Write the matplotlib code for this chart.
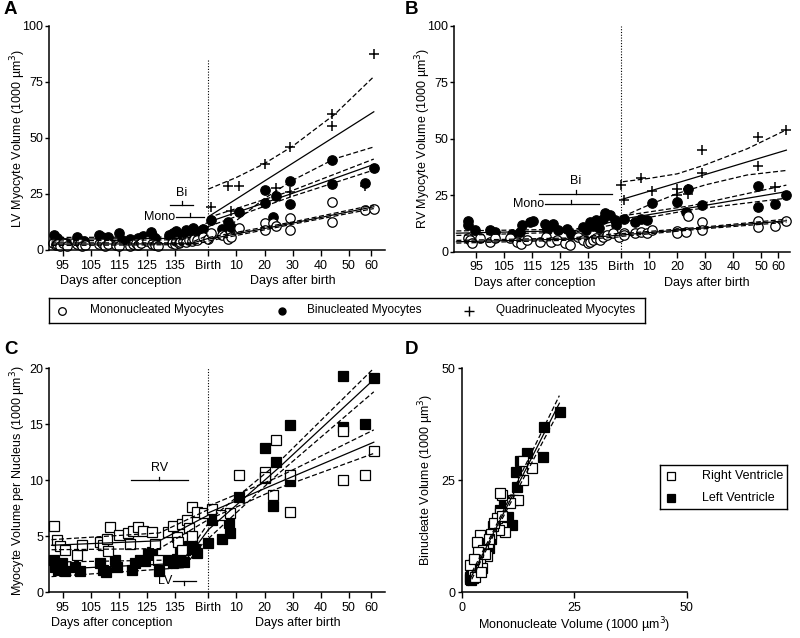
import matplotlib
matplotlib.use('Agg')
import matplotlib.pyplot as plt
from matplotlib.transforms import blended_transform_factory

plt.rcParams['font.family'] = ['Liberation Sans', 'DejaVu Sans']
plt.rcParams['font.size'] = 9

BIRTH = 147  # gestational day of birth

# ---------------- Panel A (LV myocyte volume) ----------------
A_mono_pre_x = [91.5, 92.5, 93, 94, 95, 96.5, 100, 101, 102, 103, 108, 109, 110, 111, 114, 115, 119, 120, 121,
                122, 123, 125, 127, 128, 129, 134, 135, 135.5, 136.5, 137, 138, 139, 140, 141, 142, 143, 145]
A_mono_pre_y = [3.0, 2.2, 2.6, 1.8, 3.3, 2.0, 2.5, 3.0, 1.9, 2.4, 2.6, 3.2, 2.0, 2.8, 2.4, 1.9, 2.0, 2.7, 3.3,
                2.2, 3.0, 3.8, 2.6, 2.2, 2.0, 3.2, 2.8, 4.0, 3.0, 3.6, 4.2, 3.4, 4.6, 3.8, 5.0, 4.4, 5.6]
A_mono_post_d = [0, 1, 5, 7, 8, 11, 20, 20, 23, 24, 29, 29, 44, 44, 56, 59]
A_mono_post_y = [5.0, 7.4, 6.7, 4.9, 6.0, 9.6, 12.1, 8.9, 12.1, 10.7, 14.1, 9.0, 21.6, 12.7, 17.8, 18.3]
A_bi_pre_x = [92, 93, 94, 96, 100, 101, 102.5, 108, 109, 110, 111, 115, 116, 119, 121, 122, 123.5, 124.5, 126.5,
              127, 128, 133, 134.5, 135.5, 137, 138, 139, 140, 141.5, 142.5, 143.5, 145]
A_bi_pre_y = [6.8, 5.2, 4.0, 3.2, 5.8, 4.2, 3.8, 6.8, 5.6, 4.2, 5.8, 7.6, 4.6, 5.0, 4.2, 5.4, 6.2, 5.0, 8.2,
              6.5, 5.4, 6.8, 7.6, 8.4, 6.0, 7.0, 8.8, 7.8, 9.8, 8.6, 7.2, 9.2]
A_bi_post_d = [1, 5, 7, 8, 11, 20, 20, 23, 24, 29, 29, 44, 44, 56, 59]
A_bi_post_y = [13.4, 9.2, 12.6, 10.4, 16.8, 26.8, 21.1, 14.9, 24.0, 31.0, 20.5, 40.2, 29.3, 30.0, 36.8]
A_quad_post_d = [1, 7, 8, 11, 20, 24, 29, 29, 44, 44, 56, 59]
A_quad_post_y = [19.3, 28.7, 17.6, 28.7, 38.5, 27.9, 46.1, 25.7, 60.7, 55.3, 28.7, 87.5]

# fitted lines: knots x, (lower, fit, upper)
A_mono_pre_fit_x = [91, 140.5, 147]
A_mono_pre_fit = ([2.0, 2.4, 3.8], [2.6, 2.8, 5.2], [3.2, 3.2, 6.6])
A_bi_pre_fit_x = [91, 137.5, 147]
A_bi_pre_fit = ([4.0, 4.6, 8.5], [4.8, 5.2, 10.5], [5.6, 5.8, 12.5])
A_mono_post_fit_d = [0, 30, 59]
A_mono_post_fit = ([4.0, 11.5, 18.5], [4.8, 12.0, 19.3], [5.6, 12.5, 20.1])
A_bi_post_fit_d = [0, 30, 59]
A_bi_post_fit = ([10.5, 24.0, 35.7], [12.5, 25.3, 38.2], [14.5, 26.6, 40.6])
A_quad_post_fit_d = [0, 10, 20, 30, 45, 59]
A_quad_post_fit = ([2.6, 13.2, 23.0, 31.1, 40.7, 46.0],
                   [14.9, 22.8, 30.8, 38.7, 50.6, 61.7],
                   [27.2, 32.4, 38.6, 46.3, 60.5, 77.4])
A_brackets = [("Bi", 137.5, 133.3, 141.6, 20.1), ("Mono", 140.5, 135.5, 145.5, 14.9)]

# ---------------- Panel B (RV myocyte volume) ----------------
B_mono_pre_x = [92.3, 92.9, 93.5, 96.4, 100, 101.8, 107.1, 109.5, 111, 113.1, 117.9, 120.2, 122, 123.8, 126.8,
                128.6, 131.5, 133.3, 135, 135.7, 137, 138.1, 139.5, 140.4, 142, 144, 146]
B_mono_pre_y = [6.2, 5.0, 3.8, 5.9, 4.4, 5.9, 5.9, 4.4, 3.6, 5.2, 4.4, 6.6, 4.2, 5.2, 3.7,
                3.0, 6.6, 5.2, 3.8, 4.4, 5.0, 5.9, 5.4, 6.6, 7.6, 8.1, 6.4]
B_mono_post_d = [1, 1, 5, 7, 9, 11, 20, 20, 23, 24, 29, 29, 49, 49, 55, 59]
B_mono_post_y = [8.5, 7.2, 8.1, 8.7, 8.2, 9.8, 9.0, 8.3, 8.7, 15.6, 13.1, 9.8, 13.5, 11.0, 11.5, 13.6]
B_bi_pre_x = [92.3, 92.3, 94.6, 100, 101.8, 108, 110.7, 111.3, 114.3, 115.5, 119.6, 120.5, 121.4, 122.6, 124.4,
              127.4, 129, 133.3, 134.5, 135.7, 137, 138.1, 139, 140.4, 141, 142.9, 144.6, 145.2]
B_bi_pre_y = [13.6, 11.8, 9.5, 9.5, 8.8, 8.0, 8.8, 12.0, 13.0, 13.4, 12.4, 9.8, 11.6, 12.4, 9.5,
              10.2, 8.0, 11.0, 9.6, 13.0, 11.2, 14.0, 10.4, 14.6, 17.0, 16.1, 14.0, 11.8]
B_bi_post_d = [1, 5, 7, 9, 11, 20, 23, 24, 29, 49, 49, 55, 59]
B_bi_post_y = [14.5, 13.0, 14.5, 14.0, 21.6, 21.9, 17.5, 27.6, 20.6, 29.3, 20.0, 21.0, 25.0]
B_quad_post_d = [0, 1, 7, 11, 20, 20, 24, 24, 29, 29, 49, 49, 55, 59]
B_quad_post_y = [29.5, 23.0, 32.8, 27.0, 28.0, 25.0, 25.5, 28.0, 45.0, 35.0, 51.0, 38.0, 28.5, 54.0]

B_mono_pre_fit_x = [88, 128.9, 147]
B_mono_pre_fit = ([3.8, 5.1, 6.6], [4.4, 5.6, 7.4], [5.0, 6.1, 8.2])
B_bi_pre_fit_x = [88, 130.6, 147]
B_bi_pre_fit = ([7.2, 8.8, 12.6], [8.2, 9.4, 14.2], [9.2, 10.0, 15.8])
B_mono_post_fit_d = [0, 30, 59]
B_mono_post_fit = ([6.8, 10.2, 13.0], [7.4, 10.6, 13.7], [8.0, 11.0, 14.4])
B_bi_post_fit_d = [0, 25, 59]
B_bi_post_fit = ([13.0, 18.6, 23.7], [14.4, 19.5, 26.6], [15.8, 20.4, 29.5])
B_quad_post_fit_d = [0.5, 10, 20, 30, 45, 59]
B_quad_post_fit = ([15.6, 20.8, 25.8, 29.6, 34.0, 36.0],
                   [23.3, 26.8, 30.5, 34.2, 39.8, 45.0],
                   [31.0, 32.5, 34.5, 38.5, 45.6, 54.0])
B_brackets = [("Bi", 130.6, 117.6, 143.5, 25.6), ("Mono", 128.9, 119.6, 138.9, 21.1)]

# ---------------- Panel C (volume per nucleus) ----------------
C_rv_pre_x = [92, 92.9, 94, 95.8, 100, 101.8, 108.3, 109.2, 110.7, 111, 111.9, 114.9, 118.4, 119, 120.2, 122,
              123.8, 126.8, 127.9, 129.1, 132.7, 134.5, 135.7, 136.3, 137.5, 137.5, 139.3, 140.2, 141.1, 141.1,
              142.9, 145.5]
C_rv_pre_y = [5.9, 4.7, 4.1, 3.8, 3.3, 4.2, 4.5, 4.2, 4.8, 3.7, 5.8, 5.1, 5.3, 4.3, 5.5, 5.8,
              5.5, 5.4, 4.3, 2.9, 5.4, 5.9, 4.9, 4.5, 6.1, 3.8, 6.5, 5.7, 7.6, 5.0,
              7.2, 7.1]
C_rv_post_d = [1.4, 4.4, 7.8, 11, 20, 20, 23, 24, 29, 29, 48, 48, 56, 59]
C_rv_post_y = [7.4, 6.9, 7.1, 10.5, 10.7, 10.3, 8.7, 13.6, 10.5, 7.2, 14.4, 10.0, 10.5, 12.6]
C_lv_pre_x = [92, 92.4, 93.4, 94.6, 95.8, 99.3, 101.1, 108.3, 109.4, 110.6, 113.6, 114.2, 119.6, 120.8, 122.6,
              124.4, 125.6, 126.8, 129.2, 132.7, 134.5, 135.7, 136.9, 138.1, 138.7, 139.9, 141.1, 142.3, 142.9]
C_lv_pre_y = [2.9, 2.3, 2.0, 2.6, 1.9, 2.3, 1.9, 2.6, 2.0, 1.8, 2.9, 2.3, 2.0, 2.6, 2.9,
              2.8, 3.4, 3.6, 1.9, 2.9, 2.6, 3.0, 3.5, 2.7, 3.8, 4.1, 4.5, 3.9, 3.5]
C_lv_post_d = [0, 1.4, 4.8, 7.2, 7.8, 11, 20, 20, 23, 24, 29, 29, 48, 48, 56, 59]
C_lv_post_y = [4.4, 6.5, 4.8, 6.2, 5.3, 8.5, 12.9, 10.2, 7.7, 11.6, 14.9, 9.9, 19.3, 14.8, 15.0, 19.1]

C_rv_pre_fit_x = [91, 129.5, 147]
C_rv_pre_fit = ([3.8, 3.9, 6.5], [4.2, 4.6, 6.9], [4.7, 5.3, 7.4])
C_lv_pre_fit_x = [91, 138.1, 147]
C_lv_pre_fit = ([1.4, 2.2, 5.0], [2.05, 2.6, 5.6], [2.7, 2.9, 6.2])
C_lv_post_fit_d = [0, 25, 59]
C_lv_post_fit = ([4.8, 10.6, 17.9], [5.6, 11.1, 19.0], [6.4, 11.6, 20.0])
C_rv_post_fit_d = [0, 25, 59]
C_rv_post_fit = ([6.5, 9.3, 12.4], [7.1, 9.8, 13.4], [7.7, 10.3, 14.5])
C_brackets = [("RV", 129.5, 119.4, 139.6, 10.0), ("LV", 138.1, 134.5, 142.5, 1.0)]

# ---------------- Panel D (bi vs mono volume) ----------------
D_lv_x = [21.9, 18.3, 18.0, 14.5, 13.0, 12.1, 12.2, 11.1, 10.2, 9.3, 8.5, 7.5, 6.5, 5.5, 5.0, 4.5, 4.0, 3.5,
          3.0, 2.8, 2.5, 2.3, 2.2, 2.0, 2.0, 1.8, 1.9, 2.1, 2.4, 2.6, 3.2, 3.8, 6.0]
D_lv_y = [40.2, 36.8, 30.1, 31.0, 29.3, 26.9, 23.6, 15.0, 16.9, 20.2, 18.4, 14.5, 12.0, 10.5, 9.0, 9.5, 8.0, 7.5,
          7.0, 6.5, 6.0, 5.5, 5.0, 4.5, 4.0, 3.5, 3.0, 2.8, 3.2, 3.8, 5.5, 6.5, 10.0]
D_rv_x = [13.7, 15.6, 13.6, 11.5, 12.6, 10.8, 8.9, 8.5, 8.5, 7.8, 9.6, 8.2, 7.0, 5.9, 4.8, 4.1, 3.3, 5.9, 4.8,
          5.6, 4.1, 4.5, 3.3, 2.6, 3.0, 1.9, 6.5, 7.2, 5.2, 3.6, 4.2, 2.8, 9.0, 6.0]
D_rv_y = [29.2, 27.7, 25.1, 20.6, 20.6, 19.9, 21.7, 22.1, 17.6, 16.5, 13.5, 13.9, 14.7, 12.4, 11.3, 12.8, 11.3,
          10.9, 9.4, 8.0, 7.2, 5.4, 6.5, 5.0, 3.5, 6.1, 13.0, 15.5, 8.5, 9.0, 4.5, 7.5, 17.0, 11.8]
D_fit_x = [1.5, 7.0, 21.7]
D_fit = ([1.4, 12.6, 40.6], [2.2, 13.1, 42.2], [3.0, 13.6, 43.9])

legend_top_labels = ["Mononucleated Myocytes", "Binucleated Myocytes", "Quadrinucleated Myocytes"]
legend_D_labels = ["Right Ventricle", "Left Ventricle"]

pre_ticks = [95, 105, 115, 125, 135]
post_ticks = [10, 20, 30, 40, 50]
post_tick_labels = ["10", "20", "30", "40", "50", "60"]

# ---------------- drawing helpers ----------------
W, H = 800, 638
fig = plt.figure(figsize=(8, 6.38), dpi=100)
FS = 9


def rect(l, r, t, b):
    return [l / W, 1 - b / H, (r - l) / W, (b - t) / H]


OPEN_C = dict(marker='o', ms=6.8, mfc='white', mec='black', mew=0.9, ls='none', clip_on=False)
FILL_C = dict(marker='o', ms=6.8, mfc='black', mec='black', mew=0.9, ls='none', clip_on=False)
PLUS = dict(marker='+', ms=7.5, mec='black', mew=1.1, ls='none', clip_on=False)
OPEN_S = dict(marker='s', ms=6.5, mfc='white', mec='black', mew=0.9, ls='none', clip_on=False)
FILL_S = dict(marker='s', ms=6.5, mfc='black', mec='black', mew=0.9, ls='none', clip_on=False)


def post(d):
    return [BIRTH + v for v in d]


def draw_fit(ax, x, bands):
    lo, fit, hi = bands
    ax.plot(x, fit, color='black', lw=0.9, zorder=4)
    ax.plot(x, lo, color='black', lw=0.9, ls=(0, (4, 2)), zorder=4)
    ax.plot(x, hi, color='black', lw=0.9, ls=(0, (4, 2)), zorder=4)


def style(ax):
    for s in ['top', 'right']:
        ax.spines[s].set_visible(False)
    for s in ['left', 'bottom']:
        ax.spines[s].set_linewidth(1.1)
    ax.tick_params(axis='both', direction='out', width=1.0, labelsize=FS, colors='black')
    ax.tick_params(axis='y', length=3, pad=1.5)
    ax.tick_params(axis='x', length=4, pad=3)


def time_axis(ax, xlim, sixty_d, ymax, birth_top, conc_x, birth_x):
    ax.set_xlim(*xlim)
    ax.set_ylim(0, ymax)
    style(ax)
    ticks = pre_ticks + [BIRTH] + post(post_ticks) + [BIRTH + sixty_d]
    labels = [str(t) for t in pre_ticks] + ["Birth"] + post_tick_labels
    ax.set_xticks(ticks)
    ax.set_xticklabels(labels)
    ax.plot([BIRTH, BIRTH], [0, birth_top], color='black', lw=0.8, ls=(0, (1, 1.5)), zorder=1)
    tr = blended_transform_factory(ax.transData, ax.transAxes)
    ax.text(conc_x, -0.138, "Days after conception", transform=tr, ha='center', va='center', fontsize=FS)
    ax.text(BIRTH + birth_x, -0.138, "Days after birth", transform=tr, ha='center', va='center', fontsize=FS)


def bracket(ax, name, c, lo, hi, y, tick_up, label_pos, tlen):
    ax.plot([lo, hi], [y, y], color='black', lw=0.9, zorder=5)
    ax.plot([c, c], [y, y + (tlen if tick_up else -tlen)], color='black', lw=0.9, zorder=5)
    if label_pos == 'above':
        ax.text(c, y + tlen * 1.8, name, ha='center', va='bottom', fontsize=FS)
    else:
        ax.text(lo - 0.3, y, name, ha='right', va='center', fontsize=FS)


# ---------------- Panel A ----------------
axA = fig.add_axes(rect(49.3, 385, 26, 250))
time_axis(axA, (90.2, 210), 58, 100, 85, 115.8, 30)
axA.set_yticks([0, 25, 50, 75, 100])
axA.plot(A_bi_pre_x, A_bi_pre_y, **FILL_C)
axA.plot(post(A_bi_post_d), A_bi_post_y, **FILL_C)
axA.plot(A_mono_pre_x, A_mono_pre_y, **OPEN_C)
axA.plot(post(A_mono_post_d), A_mono_post_y, **OPEN_C)
axA.plot(post(A_quad_post_d), A_quad_post_y, **PLUS)
draw_fit(axA, A_mono_pre_fit_x, A_mono_pre_fit)
draw_fit(axA, A_bi_pre_fit_x, A_bi_pre_fit)
draw_fit(axA, post(A_mono_post_fit_d), A_mono_post_fit)
draw_fit(axA, post(A_bi_post_fit_d), A_bi_post_fit)
draw_fit(axA, post(A_quad_post_fit_d), A_quad_post_fit)
bracket(axA, *A_brackets[0], True, 'above', 1.6)
bracket(axA, *A_brackets[1], True, 'left', 1.6)
axA.set_ylabel("LV Myocyte Volume (1000 µm$^3$)", fontsize=FS)
axA.yaxis.set_label_coords(-0.063, 0.5)

# ---------------- Panel B ----------------
axB = fig.add_axes(rect(454.3, 790, 26, 251.7))
time_axis(axB, (87.25, 207.3), 56, 100, 100, 116, 30.4)
axB.set_yticks([0, 25, 50, 75, 100])
axB.plot(B_bi_pre_x, B_bi_pre_y, **FILL_C)
axB.plot(post(B_bi_post_d), B_bi_post_y, **FILL_C)
axB.plot(B_mono_pre_x, B_mono_pre_y, **OPEN_C)
axB.plot(post(B_mono_post_d), B_mono_post_y, **OPEN_C)
axB.plot(post(B_quad_post_d), B_quad_post_y, **PLUS)
draw_fit(axB, B_mono_pre_fit_x, B_mono_pre_fit)
draw_fit(axB, B_bi_pre_fit_x, B_bi_pre_fit)
draw_fit(axB, post(B_mono_post_fit_d), B_mono_post_fit)
draw_fit(axB, post(B_bi_post_fit_d), B_bi_post_fit)
draw_fit(axB, post(B_quad_post_fit_d), B_quad_post_fit)
bracket(axB, *B_brackets[0], True, 'above', 1.6)
bracket(axB, *B_brackets[1], True, 'left', 1.6)
axB.set_ylabel("RV Myocyte Volume (1000 µm$^3$)", fontsize=FS)
axB.yaxis.set_label_coords(-0.063, 0.5)

# ---------------- Panel C ----------------
axC = fig.add_axes(rect(49.3, 385, 368.3, 592.3))
time_axis(axC, (90.2, 210), 58, 20, 20, 112.5, 32)
axC.set_yticks([0, 5, 10, 15, 20])
axC.plot(C_lv_pre_x, C_lv_pre_y, **FILL_S)
axC.plot(post(C_lv_post_d), C_lv_post_y, **FILL_S)
axC.plot(C_rv_pre_x, C_rv_pre_y, **OPEN_S)
axC.plot(post(C_rv_post_d), C_rv_post_y, **OPEN_S)
draw_fit(axC, C_rv_pre_fit_x, C_rv_pre_fit)
draw_fit(axC, C_lv_pre_fit_x, C_lv_pre_fit)
draw_fit(axC, post(C_lv_post_fit_d), C_lv_post_fit)
draw_fit(axC, post(C_rv_post_fit_d), C_rv_post_fit)
bracket(axC, *C_brackets[0], True, 'above', 0.33)
bracket(axC, *C_brackets[1], False, 'left', 0.33)
axC.set_ylabel("Myocyte Volume per Nucleus (1000 µm$^3$)", fontsize=FS)
axC.yaxis.set_label_coords(-0.063, 0.5)

# ---------------- Panel D ----------------
axD = fig.add_axes(rect(461.7, 686.7, 368.3, 592.3))
axD.set_xlim(0, 50)
axD.set_ylim(0, 50)
style(axD)
axD.set_xticks([0, 25, 50])
axD.set_yticks([0, 25, 50])
axD.plot(D_lv_x, D_lv_y, **FILL_S)
axD.plot(D_rv_x, D_rv_y, **OPEN_S)
draw_fit(axD, D_fit_x, D_fit)
axD.set_xlabel("Mononucleate Volume (1000 µm$^3$)", fontsize=FS, labelpad=1)
axD.set_ylabel("Binucleate Volume (1000 µm$^3$)", fontsize=FS)
axD.yaxis.set_label_coords(-0.114, 0.5)

# ---------------- Top legend ----------------
axL = fig.add_axes(rect(49, 645, 298, 323))
axL.set_xlim(49, 645)
axL.set_ylim(323, 298)
axL.set_xticks([])
axL.set_yticks([])
for s in axL.spines.values():
    s.set_linewidth(1.0)
ly = 310.5
axL.plot([61.8], [ly], marker='o', ms=5.5, mfc='white', mec='black', mew=0.9, ls='none')
axL.text(89.9, ly, legend_top_labels[0], va='center', ha='left', fontsize=8.5)
axL.plot([282.4], [ly], marker='o', ms=5, mfc='black', mec='black', ls='none')
axL.text(306.9, ly, legend_top_labels[1], va='center', ha='left', fontsize=8.5)
axL.plot([469.3], [ly], marker='+', ms=7, mec='black', mew=1.0, ls='none')
axL.text(495.9, ly, legend_top_labels[2], va='center', ha='left', fontsize=8.5)

# ---------------- Panel D legend ----------------
axL2 = fig.add_axes(rect(660, 786.7, 465, 509.3))
axL2.set_xlim(660, 786.7)
axL2.set_ylim(509.3, 465)
axL2.set_xticks([])
axL2.set_yticks([])
for s in axL2.spines.values():
    s.set_linewidth(1.0)
axL2.plot([670.5], [476], marker='s', ms=5.5, mfc='white', mec='black', mew=0.9, ls='none')
axL2.text(702, 476, legend_D_labels[0], va='center', ha='left', fontsize=FS)
axL2.plot([670.5], [498.3], marker='s', ms=5.5, mfc='black', mec='black', mew=0.9, ls='none')
axL2.text(702, 498.3, legend_D_labels[1], va='center', ha='left', fontsize=FS)

# ---------------- Panel letters ----------------
for lab, x, y in [("A", 4, 1), ("B", 405, 1), ("C", 4, 341), ("D", 405, 341)]:
    fig.text(x / W, 1 - y / H, lab, fontsize=13.5, fontweight='bold', ha='left', va='top')

fig.savefig("out.png", dpi=100)
